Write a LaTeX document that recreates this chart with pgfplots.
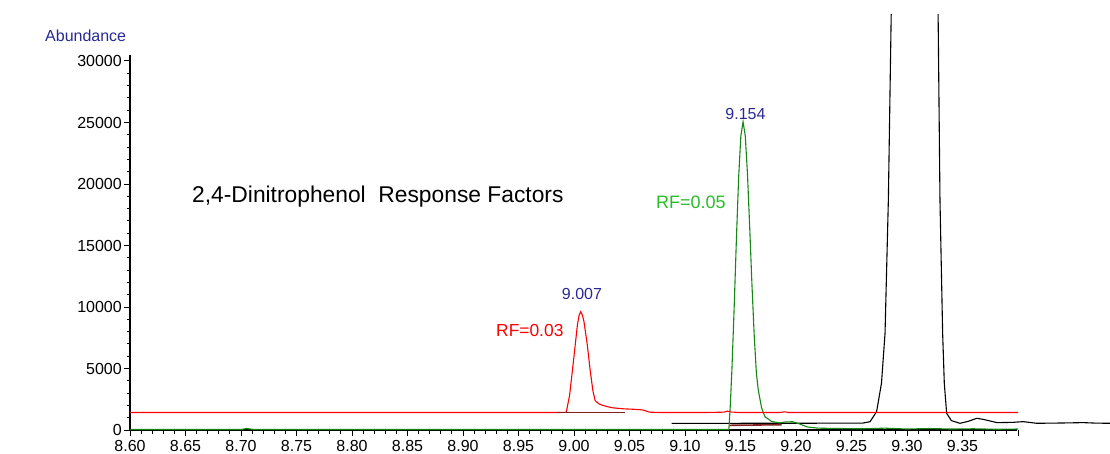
\documentclass[border=0pt]{standalone}
\usepackage{pgfplots}
\pgfplotsset{compat=1.18}
\usepackage{fontspec}
\setmainfont{Liberation Sans}
\definecolor{cred}{RGB}{255,0,0}
\definecolor{cgreen}{RGB}{20,135,20}
\definecolor{cgreentxt}{RGB}{40,190,40}
\definecolor{cblue}{RGB}{40,40,150}
\definecolor{cmaroon}{RGB}{130,30,30}
\begin{document}
\begin{tikzpicture}[x=1pt,y=1pt]
\useasboundingbox (0,0) rectangle (1110,453);
% axis lines
\draw[black, line width=1.3pt] (130,23) -- (1017,23);
\draw[black, line width=1.3pt] (130,23) -- (130,398);
\begin{axis}[
  at={(130pt,23pt)}, anchor=south west,
  scale only axis, width=980pt, height=415pt,
  xmin=8.6, xmax=9.48288, ymin=0, ymax=33740,
  scaled ticks=false,
  axis line style={draw=none},
  tick align=outside, xtick pos=bottom, ytick pos=left,
  xtick={8.60,8.65,8.70,8.75,8.80,8.85,8.90,8.95,9.00,9.05,9.10,9.15,9.20,9.25,9.30,9.35,9.40},
  xticklabels={8.60,8.65,8.70,8.75,8.80,8.85,8.90,8.95,9.00,9.05,9.10,9.15,9.20,9.25,9.30,9.35,{}},
  minor x tick num=4,
  ytick={0,5000,10000,15000,20000,25000,30000},
  yticklabels={0,5000,10000,15000,20000,25000,30000},
  minor y tick num=4,
  major tick length=6pt, minor tick length=3.5pt,
  every tick/.style={black, line width=1pt},
  xticklabel style={font=\fontsize{16}{16}\selectfont, inner sep=0pt, anchor=north, yshift=-4pt},
  yticklabel style={font=\fontsize{16}{16}\selectfont, inner sep=0pt, anchor=east, xshift=-2pt},
]
% black trace
\addplot[black, line width=1.1pt] coordinates {
(9.088,545) (9.150,545) (9.200,550) (9.260,560) (9.2667,675) (9.2726,1490)
(9.277,3800) (9.2802,7860) (9.2832,18700) (9.2858,34000) (9.290,70000)
(9.320,70000) (9.3280,34000) (9.3297,18700) (9.3321,7860) (9.3336,3790)
(9.3357,1360) (9.340,760) (9.3477,545) (9.355,700) (9.3628,950) (9.3685,870)
(9.381,600) (9.395,620) (9.4047,680) (9.4168,545) (9.440,570) (9.4586,600)
(9.470,560) (9.483,545)
};
% green trace
\addplot[cgreen, line width=1.1pt] coordinates {
(8.600,40) (8.650,40) (8.700,40) (8.705,120) (8.712,40) (8.800,40) (8.900,40)
(9.000,40) (9.100,40) (9.1395,40) (9.1408,2000) (9.1423,5000) (9.1443,10000)
(9.1463,15500) (9.1483,20500) (9.1503,23900) (9.1523,25060) (9.1543,23900)
(9.1563,20780) (9.1583,16430) (9.1603,11840) (9.1623,7760) (9.1643,4630)
(9.166,3250) (9.169,1800) (9.172,1080) (9.178,700) (9.185,570) (9.190,650)
(9.197,675) (9.203,500) (9.210,250) (9.220,150) (9.240,120) (9.260,100)
(9.280,150) (9.300,80) (9.320,120) (9.340,80) (9.360,100) (9.380,60) (9.400,80)
};
% red trace
\addplot[cred, line width=1.1pt] coordinates {
(8.600,1420) (8.650,1425) (8.700,1420) (8.750,1425) (8.800,1420) (8.850,1420)
(8.900,1425) (8.950,1420) (8.985,1420) (8.993,1440) (8.996,2800) (9.000,6000)
(9.003,8500) (9.0045,9300) (9.006,9620) (9.0075,9350) (9.009,8800) (9.012,6900)
(9.0145,4900) (9.017,3200) (9.019,2400) (9.022,2150) (9.025,2030) (9.030,1900)
(9.035,1800) (9.045,1720) (9.055,1680) (9.062,1630) (9.068,1450) (9.080,1420)
(9.100,1420) (9.120,1425) (9.135,1450) (9.138,1530) (9.142,1460) (9.150,1420)
(9.170,1420) (9.185,1425) (9.190,1480) (9.193,1425) (9.250,1420) (9.300,1420)
(9.350,1420) (9.400,1420)
};
% integration baselines
\addplot[cmaroon, line width=1.6pt] coordinates {(8.985,1420) (9.046,1420)};
\addplot[cmaroon, line width=1.6pt] coordinates {(9.140,380) (9.187,430)};
\end{axis}
\node[anchor=base west, inner sep=0pt, text=cblue, font=\fontsize{16}{16}\selectfont] at (45,411) {Abundance};
\node[anchor=base west, inner sep=0pt, font=\fontsize{22.8}{22.8}\selectfont] at (192,251) {2,4-Dinitrophenol\ \ Response Factors};
\node[anchor=base, inner sep=0pt, text=cblue, font=\fontsize{16}{16}\selectfont] at (582,153.7) {9.007};
\node[anchor=base, inner sep=0pt, text=cblue, font=\fontsize{16}{16}\selectfont] at (745.5,333.7) {9.154};
\node[anchor=base west, inner sep=0pt, text=cred, font=\fontsize{17.4}{17.4}\selectfont] at (496,116.3) {RF=0.03};
\node[anchor=base west, inner sep=0pt, text=cgreentxt, font=\fontsize{18}{18}\selectfont] at (656,244) {RF=0.05};
\end{tikzpicture}
\end{document}
